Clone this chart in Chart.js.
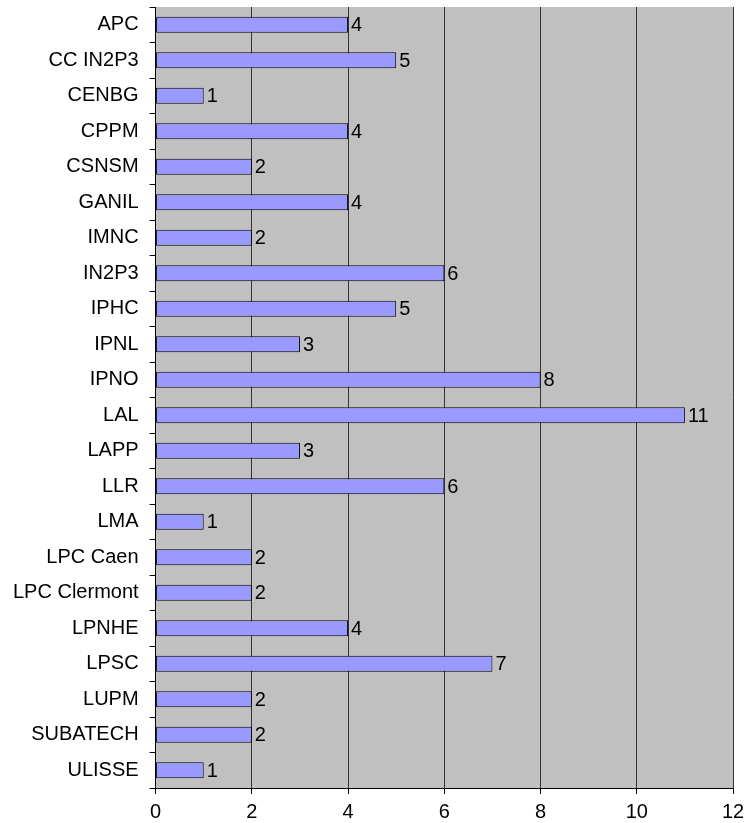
<!DOCTYPE html>
<html>
<head>
<meta charset="utf-8">
<script src="https://cdn.jsdelivr.net/npm/chart.js@4"></script>
<style>
  html, body { margin: 0; padding: 0; background: #fff; }
  #wrap { width: 746px; height: 823px; }
</style>
</head>
<body>
<div id="wrap"><canvas id="myChart"></canvas></div>
<script>
const labos = ['APC', 'CC IN2P3', 'CENBG', 'CPPM', 'CSNSM', 'GANIL', 'IMNC', 'IN2P3', 'IPHC', 'IPNL',
    'IPNO', 'LAL', 'LAPP', 'LLR', 'LMA', 'LPC Caen', 'LPC Clermont', 'LPNHE', 'LPSC', 'LUPM',
    'SUBATECH', 'ULISSE'];
const valeurs = [4, 5, 1, 4, 2, 4, 2, 6, 5, 3, 8, 11, 3, 6, 1, 2, 2, 4, 7, 2, 2, 1];
const xTicks = [0, 2, 4, 6, 8, 10, 12];

const police = '"Liberation Sans", Arial, sans-serif';

// fond gris de la zone de tracé
const fondGris = {
    id: 'fondGris',
    beforeDraw(chart) {
        const { ctx, chartArea } = chart;
        ctx.save();
        ctx.fillStyle = '#C0C0C0';
        ctx.fillRect(chartArea.left, chartArea.top, chartArea.right - chartArea.left, chartArea.bottom - chartArea.top);
        ctx.restore();
    }
};

// valeurs au bout des barres
const etiquettes = {
    id: 'etiquettes',
    afterDatasetsDraw(chart) {
        const ctx = chart.ctx;
        const meta = chart.getDatasetMeta(0);
        ctx.save();
        ctx.fillStyle = '#000';
        ctx.font = '20px ' + police;
        ctx.textBaseline = 'middle';
        ctx.textAlign = 'left';
        meta.data.forEach((bar, i) => {
            ctx.fillText(chart.data.datasets[0].data[i], bar.x + 3, bar.y + 1);
        });
        ctx.restore();
    }
};

const data = {
    labels: labos,
    datasets: [{
        data: valeurs,
        backgroundColor: '#9999FF',
        borderColor: '#000',
        borderWidth: 1,
        borderSkipped: false,
        barPercentage: 0.9,
        categoryPercentage: 0.5
    }]
};

const config = {
    type: 'bar',
    data: data,
    options: {
        indexAxis: 'y',
        responsive: true,
        maintainAspectRatio: false,
        animation: false,
        layout: {
            padding: { top: 7, right: 0, bottom: 0, left: 2 }
        },
        plugins: {
            legend: { display: false },
            tooltip: { enabled: false }
        },
        scales: {
            x: {
                min: 0,
                max: 12,
                afterBuildTicks: (axis) => { axis.ticks = xTicks.map(v => ({ value: v })); },
                afterFit: (axis) => { axis.paddingRight = 13; axis.height = 35; },
                grid: {
                    color: '#333',
                    lineWidth: 1,
                    tickLength: 6,
                    tickColor: '#000'
                },
                border: { color: '#000', width: 1 },
                ticks: {
                    color: '#000',
                    padding: 6,
                    maxRotation: 0,
                    font: { family: police, size: 20 }
                }
            },
            y: {
                afterFit: (axis) => { axis.paddingTop = 0; axis.paddingBottom = 0; },
                grid: {
                    drawOnChartArea: false,
                    tickLength: 6,
                    tickColor: '#000'
                },
                border: { color: '#000', width: 1 },
                ticks: {
                    color: '#000',
                    padding: 11,
                    autoSkip: false,
                    font: { family: police, size: 20 }
                }
            }
        }
    },
    plugins: [fondGris, etiquettes]
};

const myChart = new Chart(document.getElementById('myChart'), config);
</script>
</body>
</html>
